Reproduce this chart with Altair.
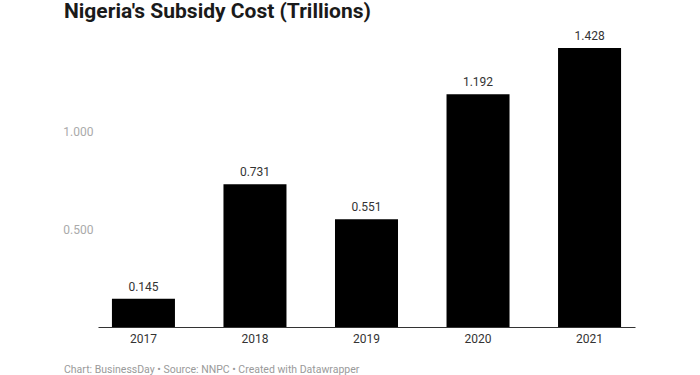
import altair as alt
import pandas as pd

years = ["2017", "2018", "2019", "2020", "2021"]
values = [0.145, 0.731, 0.551, 1.192, 1.428]
labels = ["0.145", "0.731", "0.551", "1.192", "1.428"]
y_ticks = [0.5, 1.0]

df = pd.DataFrame({"year": years, "value": values, "label": labels})
foot = pd.DataFrame({"t": ["Chart: BusinessDay • Source: NNPC • Created with Datawrapper"]})
ttl = pd.DataFrame({"t": ["Nigeria's Subsidy Cost (Trillions)"]})

FONT = "Roboto"

x = alt.X("year:N", title=None, sort=years,
          scale=alt.Scale(paddingInner=0.435, paddingOuter=0.125),
          axis=alt.Axis(labelAngle=0, ticks=False, domainColor="#333333", domainWidth=1,
                        labelColor="#333333", labelFontSize=12, labelPadding=6, labelFont=FONT))
y = alt.Y("value:Q", title=None,
          scale=alt.Scale(domain=[0, 1.5], nice=False),
          axis=alt.Axis(values=y_ticks, format=".3f", grid=False, domain=False, ticks=False,
                        labelColor="#aaaaaa", labelFontSize=12, labelPadding=5, labelFont=FONT))

bars = alt.Chart(df).mark_bar(color="#000000").encode(x=x, y=y)
text = alt.Chart(df).mark_text(dy=-5, fontSize=12, color="#333333", font=FONT, baseline="bottom").encode(
    x=alt.X("year:N", sort=years), y="value:Q", text="label:N")
footer = alt.Chart(foot).mark_text(align="left", baseline="alphabetic", fontSize=10.5, color="#9a9a9a", font=FONT).encode(
    x=alt.value(-34), y=alt.value(339), text="t:N")
title = alt.Chart(ttl).mark_text(align="left", baseline="alphabetic", fontSize=21, fontWeight="bold",
                                 color="#1a1a1a", font=FONT).encode(
    x=alt.value(-34), y=alt.value(-16), text="t:N")

chart = alt.layer(bars, text, footer, title).properties(
    width=537, height=293,
    autosize=alt.AutoSizeParams(type="none"),
    padding={"left": 98, "top": 34, "right": 65, "bottom": 48},
).configure_view(stroke=None)

chart.save("out.html", embed_options={"renderer": "svg", "actions": False})
